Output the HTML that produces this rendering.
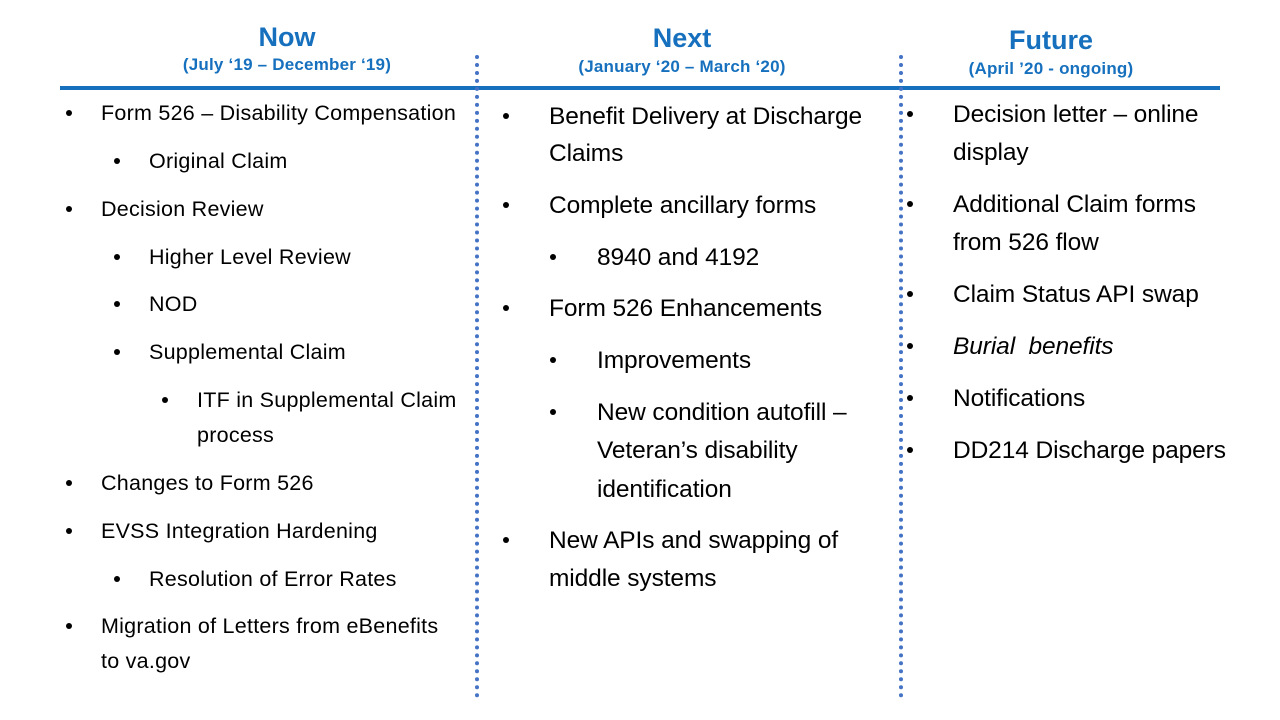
<!DOCTYPE html>
<html><head><meta charset="utf-8"><style>
body{margin:0;width:1280px;height:720px;background:#fff;position:relative;overflow:hidden;font-family:"Liberation Sans",Arial,sans-serif;}
.h{position:absolute;color:#1670BE;font-weight:bold;text-align:center;white-space:nowrap;transform:translateX(-50%);}
.s{font-size:17px;letter-spacing:0.2px}
.t{position:absolute;white-space:nowrap;color:#000;line-height:1;}
.L{font-size:21.5px;letter-spacing:0.25px}
.M{font-size:24.5px;letter-spacing:-0.1px}
.b{position:absolute;width:6px;height:6px;border-radius:50%;background:#000;}
</style></head><body>
<div class="h" style="left:287px;top:22px;font-size:27px">Now</div>
<div class="h s" style="left:287px;top:55px">(July ‘19 – December ‘19)</div>
<div class="h" style="left:682px;top:23px;font-size:27px">Next</div>
<div class="h s" style="left:682px;top:57px">(January ‘20 – March ‘20)</div>
<div class="h" style="left:1051px;top:25px;font-size:27px">Future</div>
<div class="h s" style="left:1051px;top:59px">(April ’20 - ongoing)</div>
<div style="position:absolute;left:60px;top:86px;width:1160px;height:4px;background:#1670BE"></div>
<div style="position:absolute;left:475px;top:55px;height:643px;border-left:4px dotted #4472C4"></div>
<div style="position:absolute;left:899px;top:55px;height:643px;border-left:4px dotted #4472C4"></div>

<!-- left -->
<div class="b" style="left:66px;top:110px"></div><div class="t L" style="left:101px;top:103px">Form 526 – Disability Compensation</div>
<div class="b" style="left:114px;top:158px"></div><div class="t L" style="left:149px;top:151px">Original Claim</div>
<div class="b" style="left:66px;top:206px"></div><div class="t L" style="left:101px;top:199px">Decision Review</div>
<div class="b" style="left:114px;top:254px"></div><div class="t L" style="left:149px;top:247px">Higher Level Review</div>
<div class="b" style="left:114px;top:301px"></div><div class="t L" style="left:149px;top:294px">NOD</div>
<div class="b" style="left:114px;top:349px"></div><div class="t L" style="left:149px;top:342px">Supplemental Claim</div>
<div class="b" style="left:162px;top:397px"></div><div class="t L" style="left:197px;top:390px">ITF in Supplemental Claim</div>
<div class="t L" style="left:197px;top:425px">process</div>
<div class="b" style="left:66px;top:480px"></div><div class="t L" style="left:101px;top:473px">Changes to Form 526</div>
<div class="b" style="left:66px;top:528px"></div><div class="t L" style="left:101px;top:521px">EVSS Integration Hardening</div>
<div class="b" style="left:114px;top:576px"></div><div class="t L" style="left:149px;top:569px">Resolution of Error Rates</div>
<div class="b" style="left:66px;top:623px"></div><div class="t L" style="left:101px;top:616px">Migration of Letters from eBenefits</div>
<div class="t L" style="left:101px;top:651px">to va.gov</div>

<!-- middle -->
<div class="b" style="left:503px;top:113px"></div><div class="t M" style="left:549px;top:105px">Benefit Delivery at Discharge</div>
<div class="t M" style="left:549px;top:142px">Claims</div>
<div class="b" style="left:503px;top:202px"></div><div class="t M" style="left:549px;top:194px">Complete ancillary forms</div>
<div class="b" style="left:550px;top:254px"></div><div class="t M" style="left:597px;top:246px">8940 and 4192</div>
<div class="b" style="left:503px;top:305px"></div><div class="t M" style="left:549px;top:297px">Form 526 Enhancements</div>
<div class="b" style="left:550px;top:357px"></div><div class="t M" style="left:597px;top:349px">Improvements</div>
<div class="b" style="left:550px;top:409px"></div><div class="t M" style="left:597px;top:401px">New condition autofill –</div>
<div class="t M" style="left:597px;top:439px">Veteran’s disability</div>
<div class="t M" style="left:597px;top:478px">identification</div>
<div class="b" style="left:503px;top:537px"></div><div class="t M" style="left:549px;top:529px">New APIs and swapping of</div>
<div class="t M" style="left:549px;top:567px">middle systems</div>

<!-- right -->
<div class="b" style="left:907px;top:111px"></div><div class="t M" style="left:953px;top:103px">Decision letter – online</div>
<div class="t M" style="left:953px;top:141px">display</div>
<div class="b" style="left:907px;top:201px"></div><div class="t M" style="left:953px;top:193px">Additional Claim forms</div>
<div class="t M" style="left:953px;top:231px">from 526 flow</div>
<div class="b" style="left:907px;top:291px"></div><div class="t M" style="left:953px;top:283px">Claim Status API swap</div>
<div class="b" style="left:907px;top:343px"></div><div class="t M" style="left:953px;top:335px;font-style:italic">Burial&nbsp; benefits</div>
<div class="b" style="left:907px;top:395px"></div><div class="t M" style="left:953px;top:387px">Notifications</div>
<div class="b" style="left:907px;top:447px"></div><div class="t M" style="left:953px;top:439px">DD214 Discharge papers</div>
</body></html>
